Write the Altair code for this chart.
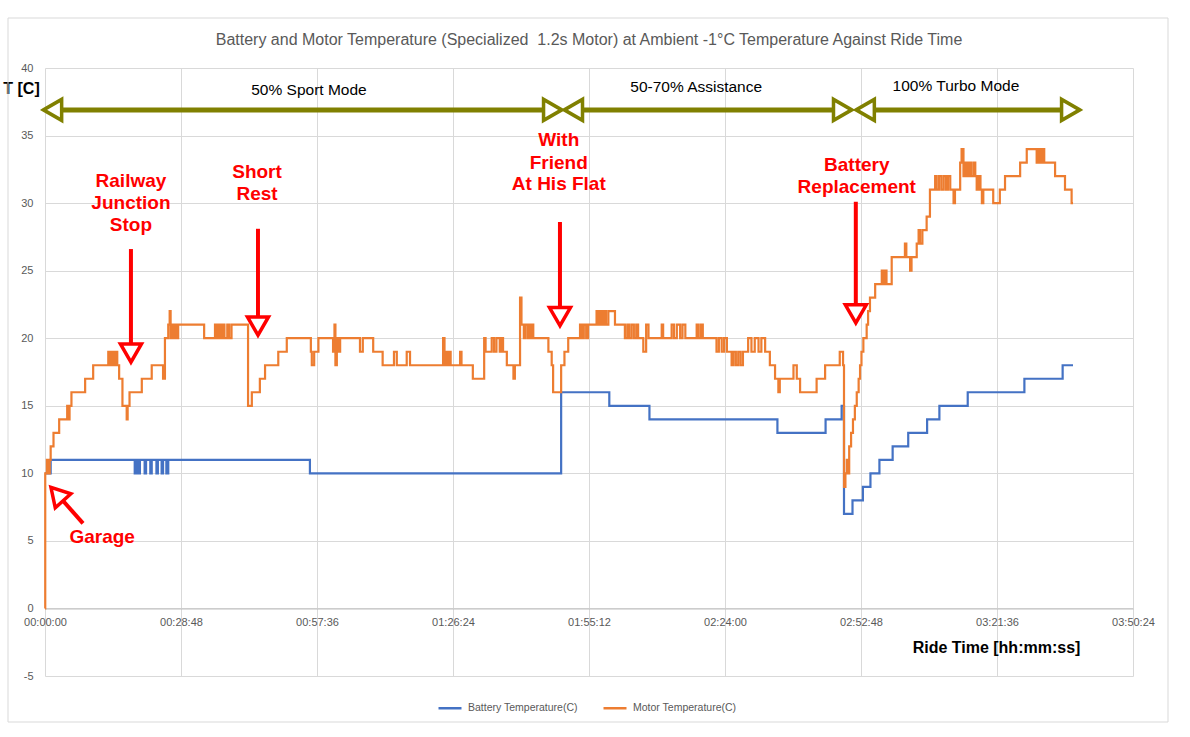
import altair as alt
import pandas as pd

# ---------------- data (time in minutes, temperature in C) ----------------
motor_t = [0, 0.05, 0.4, 0.7, 1.0, 1.2, 1.8, 3.0, 4.7, 5.0, 5.2, 5.6, 8.5, 10.2,
           13.4, 13.8, 14.2, 14.6, 15.0, 15.3, 15.7, 16.4, 17.3, 17.5, 17.9, 20.5, 22.6,
           25.0, 25.4, 26.1, 26.4, 26.6, 26.9, 27.2, 27.5, 27.8, 28.2, 33.7,
           36.0, 36.4, 36.8, 37.2, 37.6, 38.0, 38.6, 39.0, 39.5, 43.0, 43.8, 45.5, 46.6,
           49.4, 51.2, 56.3, 56.5, 57.0, 57.9, 61.0, 61.3, 61.5, 61.8, 62.1, 62.5, 66.7,
           67.3, 69.5, 71.5, 73.9, 74.5, 76.6, 77.3, 84.3, 84.6, 84.9, 85.3, 85.6, 85.9,
           87.9, 88.2, 90.6, 93.0, 93.3, 94.6, 95.1, 95.6, 96.3, 96.6, 97.0, 97.8, 99.2,
           99.5, 100.6, 100.9, 101.4, 101.8, 102.3, 102.6, 102.9, 103.1, 103.4, 106.6,
           107.3, 107.6, 109.3, 110.0, 110.8, 113.3, 113.7, 114.1, 114.6, 115.0, 116.8,
           117.2, 117.6, 118.0, 118.4, 118.8, 119.3, 120.7, 122.8, 123.3, 123.7, 124.2,
           124.7, 125.2, 125.6, 126.7, 127.3, 127.8, 130.6, 130.9, 132.7, 133.2, 133.8,
           134.5, 135.0, 135.6, 138.0, 138.4, 138.9, 139.3, 142.2, 142.7, 143.3, 143.8,
           144.4, 145.4, 145.8, 146.3, 146.8, 147.3, 147.8, 148.9, 149.6, 150.3, 151.1,
           151.7, 152.5, 153.5, 154.6, 155.3, 155.6, 158.5, 159.2, 159.9, 163.4, 165.2,
           168.3, 169.0, 169.2, 169.5, 169.8, 170.0, 170.3, 170.7, 171.1, 171.5, 171.9,
           172.3, 172.6, 172.9, 173.3, 174.0, 174.3, 174.7, 175.8, 177.2, 177.5, 177.8,
           178.2, 179.3, 182.1, 182.4, 183.2, 183.5, 184.6, 185.0, 185.3, 185.8, 186.7,
           187.4, 188.5, 188.8, 189.3, 189.8, 190.3, 190.8, 191.2, 191.7, 192.4, 192.7,
           193.8, 194.1, 194.5, 194.9, 195.3, 195.7, 196.1, 196.6, 197.0, 197.3, 197.7,
           198.1, 198.4, 198.7, 200.8, 202.2, 203.3, 206.5, 207.9, 210.0, 210.4, 210.8,
           211.2, 211.6, 212.1, 213.9, 216.0, 217.4, 217.7]
motor_v = [0, 10, 11, 10, 11, 12, 13, 14, 15, 14, 15, 16, 17, 18,
           19, 18, 19, 18, 19, 18, 17, 15, 14, 15, 16, 17, 18,
           17, 20, 21, 22, 20, 21, 20, 21, 20, 21, 20,
           21, 20, 21, 20, 21, 20, 21, 20, 21, 15, 16, 17, 18,
           19, 20, 19, 18, 19, 20, 19, 21, 18, 20, 19, 20, 19,
           20, 19, 18, 19, 18, 19, 18, 20, 18, 19, 18, 19, 18,
           19, 18, 17, 20, 19, 20, 19, 20, 19, 20, 19, 18, 17,
           18, 23, 21, 20, 21, 20, 21, 20, 21, 20, 19,
           18, 16, 18, 19, 20, 21, 20, 21, 20, 21, 22,
           21, 22, 21, 22, 21, 22, 21, 20, 21, 20, 21,
           20, 21, 20, 19, 21, 20, 21, 20, 21, 20, 21,
           20, 21, 20, 21, 20, 21, 20, 19, 20, 19, 20,
           19, 18, 19, 18, 19, 18, 19, 20, 19, 20, 19,
           20, 19, 18, 17, 16, 17, 18, 17, 16, 17, 18,
           19, 18, 9, 10, 11, 10, 12, 13, 14, 15, 16,
           17, 18, 19, 20, 21, 22, 23, 24, 25, 24, 25,
           24, 26, 27, 26, 25, 26, 27, 28, 27, 28, 29,
           31, 32, 31, 32, 31, 32, 31, 32, 31, 30, 31,
           33, 34, 32, 33, 32, 33, 32, 33, 32, 31, 32,
           31, 30, 31, 30, 31, 32, 33, 34, 33, 34, 33,
           34, 33, 33, 32, 31, 30, 30]

battery_t = [0, 1.2, 19.0, 19.2, 19.4, 19.6, 19.8, 20.1, 21.1, 21.4, 22.3, 22.6, 23.6,
             23.9, 24.7, 25.0, 25.7, 26.1, 56.1, 109.3, 119.5, 128.0, 155.1, 165.3,
             168.7, 169.2, 171.0, 173.2, 174.8, 176.7, 179.5, 182.8, 186.8, 189.4,
             195.4, 207.4, 215.5, 217.7]
battery_v = [10, 11, 10, 11, 10, 11, 10, 11, 10, 11, 10, 11, 10,
             11, 10, 11, 10, 11, 10, 16, 15, 14, 13, 14,
             15, 7, 8, 9, 10, 11, 12, 13, 14, 15,
             16, 17, 18, 18]

series_names = ["Battery Temperature(C)", "Motor Temperature(C)"]
series_colors = ["#4472C4", "#ED7D31"]

chart_title = ("Battery and Motor Temperature (Specialized\u00a0 1.2s Motor) at Ambient -1°C "
               "Temperature Against Ride Time")

# annotation texts
red_text = ["Railway", "Junction", "Stop", "Short", "Rest", "With", "Friend",
            "At His Flat", "Battery", "Replacement", "Garage"]
red_t = [18.2, 18.2, 18.2, 44.9, 44.9, 108.8, 108.8, 108.8, 171.9, 171.9, 12.1]
red_y = [31.6, 30.0, 28.4, 32.3, 30.7, 34.7, 33.0, 31.4, 32.8, 31.2, 5.3]

mode_text = ["50% Sport Mode", "50-70% Assistance", "100% Turbo Mode"]
mode_t = [55.9, 137.9, 192.9]
mode_y = [38.4, 38.6, 38.7]

# arrow shafts
shaft_t1 = [1.6, 111.9, 173.7, 18.2, 45.1, 109.05, 171.7, 8.05]
shaft_t2 = [107.5, 168.9, 217.2, 18.2, 45.1, 109.05, 171.7, 2.54]
shaft_y1 = [36.9, 36.9, 36.9, 26.6, 28.1, 28.6, 30.1, 6.3]
shaft_y2 = [36.9, 36.9, 36.9, 19.6, 21.5, 22.2, 22.5, 8.47]
shaft_kind = ["olive"] * 3 + ["red"] * 5

# arrow heads
head_t = [1.6, 107.5, 111.9, 168.9, 173.7, 217.2, 18.2, 45.1, 109.05, 171.7, 2.54]
head_y = [36.9, 36.9, 36.9, 36.9, 36.9, 36.9, 18.9, 20.9, 21.6, 21.8, 8.47]
head_shape = ["triangle-left", "triangle-right"] * 3 + ["triangle-down"] * 4 + ["triangle-up"]
head_angle = [0] * 10 + [318]
head_kind = ["olive"] * 6 + ["red"] * 5

x_ticks = [0, 28.8, 57.6, 86.4, 115.2, 144.0, 172.8, 201.6, 230.4]
y_ticks = [-5, 0, 5, 10, 15, 20, 25, 30, 35, 40]

# ---------------- build tables ----------------
lines_df = pd.concat([
    pd.DataFrame({"t": battery_t, "v": battery_v, "series": series_names[0]}),
    pd.DataFrame({"t": motor_t, "v": motor_v, "series": series_names[1]}),
])
red_df = pd.DataFrame({"t": red_t, "v": red_y, "label": red_text})
mode_df = pd.DataFrame({"t": mode_t, "v": mode_y, "label": mode_text})
kind_color = {"olive": "#808000", "red": "#FF0000"}
kind_width = {"olive": 5, "red": 4}
shaft_df = pd.DataFrame({"t": shaft_t1, "t2": shaft_t2, "v": shaft_y1, "v2": shaft_y2,
                         "col": [kind_color[k] for k in shaft_kind],
                         "w": [kind_width[k] for k in shaft_kind]})
head_df = pd.DataFrame({"t": head_t, "v": head_y, "shape": head_shape, "ang": head_angle,
                        "col": [kind_color[k] for k in head_kind]})

XDOM = [0, 230.4]
YDOM = [-5, 40]
xs = alt.Scale(domain=XDOM, nice=False, zero=False)
ys = alt.Scale(domain=YDOM, nice=False, zero=False)

FONT = "Liberation Sans"
GRAY = "#595959"
GRID = "#d9d9d9"

label_expr = "utcFormat(datum.value * 60000, '%H:%M:%S')"

x_axis = alt.Axis(values=x_ticks, labelExpr=label_expr, grid=True, gridColor=GRID,
                  domainColor="#bfbfbf", ticks=False, offset=-67.5, labelPadding=8,
                  labelFontSize=11, labelColor=GRAY, labelFont=FONT, labelFlush=False,
                  labelOverlap=False, title="Ride Time [hh:mm:ss]", titleX=951, titleY=39,
                  titleAlign="center", titleBaseline="middle", titleFontSize=16,
                  titleFontWeight="bold", titleColor="black", titleFont=FONT)
y_axis = alt.Axis(values=y_ticks, labelExpr="'' + datum.value", grid=True, gridColor=GRID,
                  domain=False, ticks=False,
                  labelPadding=12, labelFontSize=11, labelColor=GRAY, labelFont=FONT,
                  title="T [C]", titleAngle=0, titleX=-24, titleY=20, titleAlign="center",
                  titleBaseline="middle", titleFontSize=16, titleFontWeight="bold",
                  titleColor="black", titleFont=FONT)


def X(field):
    return alt.X(field, scale=xs, axis=x_axis)


def Y(field):
    return alt.Y(field, scale=ys, axis=y_axis)


lines = alt.Chart(lines_df).mark_line(interpolate="step-after", strokeWidth=2.2).encode(
    x=X("t:Q"),
    y=Y("v:Q"),
    color=alt.Color("series:N",
                    scale=alt.Scale(domain=series_names, range=series_colors),
                    legend=alt.Legend(orient="none", legendX=392, legendY=627,
                                      direction="horizontal", title=None,
                                      symbolType="stroke", symbolSize=529,
                                      symbolStrokeWidth=2.5, labelFontSize=10.5,
                                      labelColor=GRAY, labelFont=FONT,
                                      columnPadding=20, labelOffset=5)),
    order=alt.Order("t:Q"),
)

frame = alt.Chart(pd.DataFrame({"a": [0]})).mark_rect(
    fillOpacity=0, stroke=GRID, strokeWidth=1
).encode(x=alt.value(-37), x2=alt.value(1123), y=alt.value(-50), y2=alt.value(654))

title_mark = alt.Chart(pd.DataFrame({"a": [0]})).mark_text(
    font=FONT, fontSize=16, color=GRAY, align="center", baseline="middle"
).encode(x=alt.value(544), y=alt.value(-28), text=alt.value(chart_title))

shafts = alt.Chart(shaft_df).mark_rule().encode(
    x=X("t:Q"), x2="t2:Q",
    y=Y("v:Q"), y2="v2:Q",
    stroke=alt.Stroke("col:N", scale=None),
    strokeWidth=alt.StrokeWidth("w:Q", scale=None),
)

heads = alt.Chart(head_df).mark_point(
    filled=True, fill="white", fillOpacity=1, opacity=1, size=441, strokeWidth=3.5
).encode(
    x=X("t:Q"),
    y=Y("v:Q"),
    shape=alt.Shape("shape:N", scale=None),
    angle=alt.Angle("ang:Q", scale=None),
    stroke=alt.Stroke("col:N", scale=None),
)

red_labels = alt.Chart(red_df).mark_text(
    font=FONT, fontSize=19, fontWeight="bold", color="#FF0000", align="center",
    baseline="middle"
).encode(x=X("t:Q"), y=Y("v:Q"), text="label:N")

mode_labels = alt.Chart(mode_df).mark_text(
    font=FONT, fontSize=15.5, color="black", align="center", baseline="middle"
).encode(x=X("t:Q"), y=Y("v:Q"), text="label:N")

chart = alt.layer(lines, frame, title_mark, shafts, heads, red_labels, mode_labels).properties(
    width=1088, height=608,
    background="white",
    autosize=alt.AutoSizeParams(type="none"),
    padding={"left": 45, "top": 68, "right": 57, "bottom": 61},
).configure_view(strokeWidth=0)

chart.save("out.html", embed_options={"renderer": "svg", "actions": False})
